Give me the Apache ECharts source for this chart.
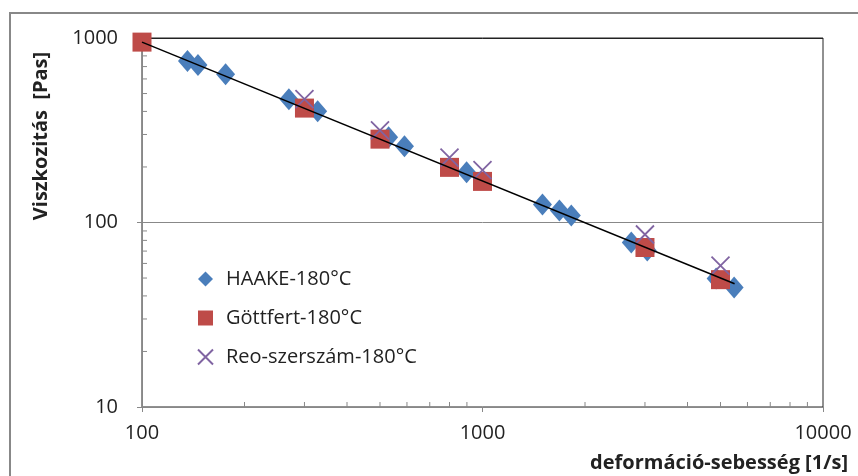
<!DOCTYPE html>
<html>
<head>
<meta charset="utf-8">
<script src="https://cdn.jsdelivr.net/npm/echarts@6/dist/echarts.min.js"></script>
<style>
    html, body { margin: 0; padding: 0; background: #fff; }
    #chart { width: 858px; height: 476px; }
</style>
</head>
<body>
<div id="chart"></div>
<script>
// HAAKE mérések
var haakeX = [136, 146, 176, 270, 328, 530, 590, 898, 1500, 1682, 1823, 2735, 3047, 4855, 5483];
var haakeY = [750, 713, 637, 466, 401, 290, 259, 187, 125, 116, 109, 77.9, 70.5, 49.7, 44.4];
// Göttfert
var gottX = [100, 300, 500, 800, 1000, 3000, 5000];
var gottY = [950, 417, 283, 199, 167, 73.2, 49.0];
// Reo-szerszám
var reoX = [300, 500, 800, 1000, 3000, 5000];
var reoY = [466, 316, 225, 192, 86.1, 58.4];
// trendvonal végpontjai
var trendX = [100, 5500];
var trendY = [950, 46.6];
// minor tick helyek
var xMinor = [200, 300, 400, 500, 600, 700, 800, 900, 2000, 3000, 4000, 5000, 6000, 7000, 8000, 9000];
var yMinor = [20, 30, 40, 50, 60, 70, 80, 90, 200, 300, 400, 500, 600, 700, 800, 900];

var seriesNames = ['HAAKE-180°C', 'Göttfert-180°C', 'Reo-szerszám-180°C'];
var font = 'Open Sans';

function pairs(xs, ys) {
    return xs.map(function (x, i) { return [x, ys[i]]; });
}

function plainNum(v) {
    return String(Math.round(v));
}

var chart = echarts.init(document.getElementById('chart'));

var option = {
    backgroundColor: '#fff',
    animation: false,
    grid: {
        left: 142, right: 35, top: 38, bottom: 69,
        show: true,
        borderColor: '#222',
        borderWidth: 1
    },
    legend: {
        data: seriesNames,
        orient: 'vertical',
        left: 192,
        top: 264,
        itemGap: 19,
        itemWidth: 15,
        itemHeight: 15,
        textStyle: { fontFamily: font, fontSize: 20, color: '#222', padding: [0, 0, 0, 8] }
    },
    xAxis: {
        type: 'log',
        logBase: 10,
        min: 100,
        max: 10000,
        axisLine: { lineStyle: { color: '#888' } },
        axisTick: { show: true, length: 5, lineStyle: { color: '#888' } },
        axisLabel: { fontFamily: font, fontSize: 20, color: '#222', margin: 16, formatter: plainNum },
        splitLine: { show: false }
    },
    yAxis: {
        type: 'log',
        logBase: 10,
        min: 10,
        max: 1000,
        axisLine: { show: true, lineStyle: { color: '#888' } },
        axisTick: { show: true, length: 5, lineStyle: { color: '#888' } },
        axisLabel: { fontFamily: font, fontSize: 20, color: '#222', margin: 24, formatter: plainNum },
        splitLine: { show: true, lineStyle: { color: ['#888', '#888', '#222'] } }
    },
    graphic: [
        {
            type: 'rect',
            shape: { x: 10, y: 13, width: 900, height: 520 },
            style: { fill: 'none', stroke: '#888', lineWidth: 2 },
            silent: true
        },
        {
            type: 'text',
            x: 41, y: 136,
            rotation: Math.PI / 2,
            style: {
                text: 'Viszkozitás  [Pas]',
                fontFamily: font, fontSize: 20, fontWeight: 'bold', fill: '#222',
                textAlign: 'center', textVerticalAlign: 'middle'
            }
        },
        {
            type: 'text',
            x: 848, y: 463,
            style: {
                text: 'deformáció-sebesség [1/s]',
                fontFamily: font, fontSize: 20, fontWeight: 'bold', fill: '#222',
                textAlign: 'right', textVerticalAlign: 'middle'
            }
        }
    ],
    series: [
        {
            name: seriesNames[0],
            type: 'scatter',
            symbol: 'diamond',
            symbolSize: [19, 22],
            data: pairs(haakeX, haakeY),
            itemStyle: { color: '#4A7EBB', opacity: 1 },
            z: 2
        },
        {
            name: seriesNames[1],
            type: 'scatter',
            symbol: 'rect',
            symbolSize: 19,
            data: pairs(gottX, gottY),
            itemStyle: { color: '#BE4B48', opacity: 1 },
            z: 3
        },
        {
            name: seriesNames[2],
            type: 'scatter',
            symbol: 'path://M0,0L10,10M10,0L0,10',
            symbolSize: 18,
            data: pairs(reoX, reoY),
            itemStyle: { color: 'rgba(0,0,0,0)', borderColor: '#8064A2', borderWidth: 1.8, opacity: 1 },
            z: 4
        },
        {
            name: 'trend',
            type: 'line',
            data: pairs(trendX, trendY),
            symbol: 'none',
            lineStyle: { color: '#000', width: 1.5 },
            z: 5,
            silent: true
        },
        {
            name: 'xminor',
            type: 'custom',
            data: xMinor.map(function (v) { return [v, 10]; }),
            silent: true,
            clip: false,
            renderItem: function (params, api) {
                var p = api.coord([api.value(0), api.value(1)]);
                return {
                    type: 'line',
                    shape: { x1: p[0], y1: p[1], x2: p[0], y2: p[1] - 5 },
                    style: { stroke: '#888', lineWidth: 1 }
                };
            }
        },
        {
            name: 'yminor',
            type: 'custom',
            data: yMinor.map(function (v) { return [100, v]; }),
            silent: true,
            clip: false,
            renderItem: function (params, api) {
                var p = api.coord([api.value(0), api.value(1)]);
                return {
                    type: 'line',
                    shape: { x1: p[0], y1: p[1], x2: p[0] + 5, y2: p[1] },
                    style: { stroke: '#888', lineWidth: 1 }
                };
            }
        }
    ]
};

chart.setOption(option);
</script>
</body>
</html>
